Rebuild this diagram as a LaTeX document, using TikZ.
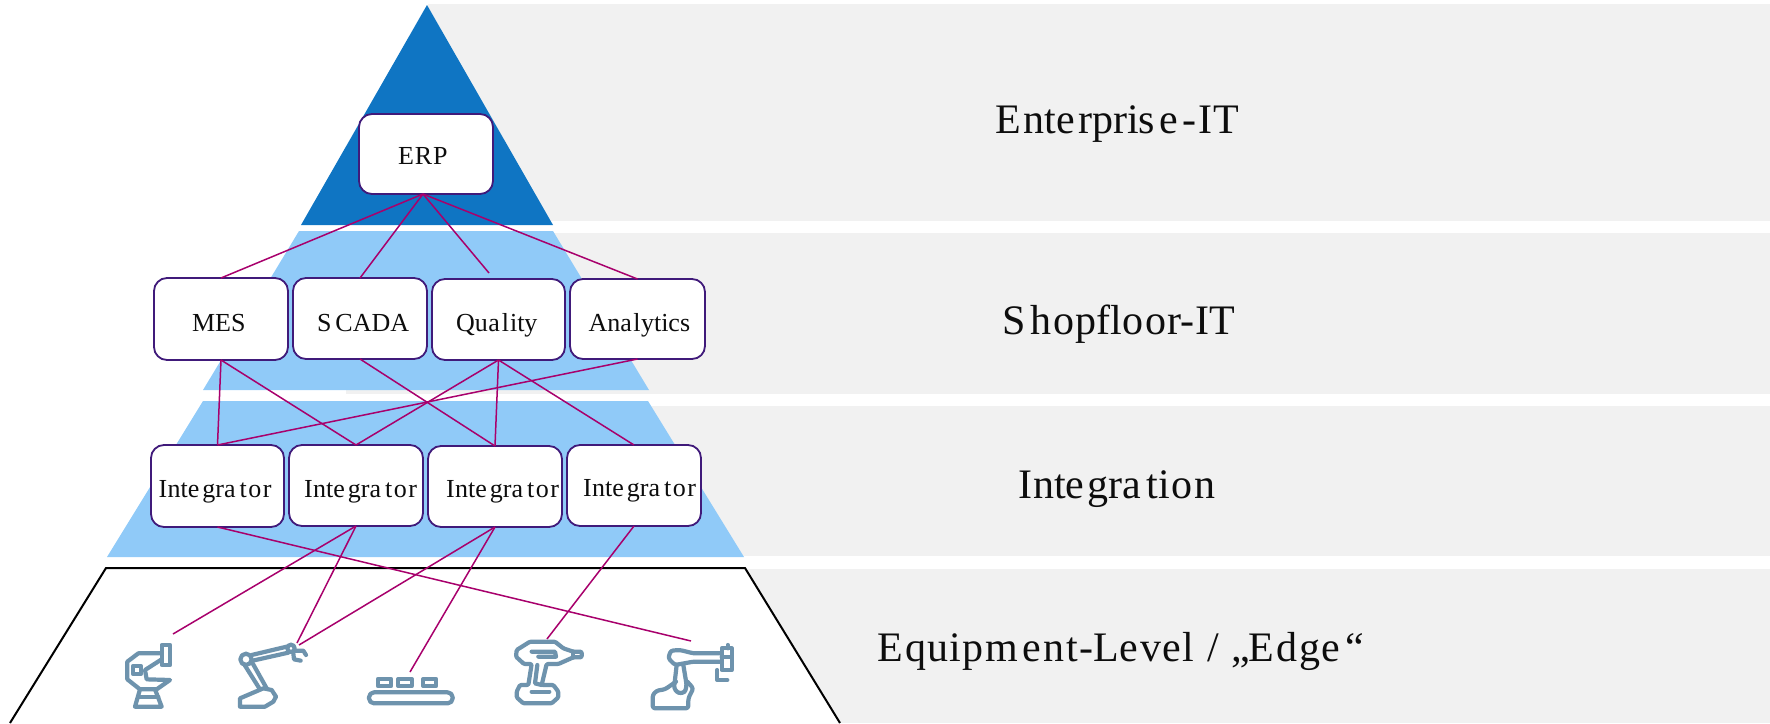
\documentclass[tikz,border=0pt]{standalone}
\usepackage{fontspec}
\setmainfont{Liberation Serif}
\definecolor{bandgrey}{HTML}{F1F1F1}
\definecolor{darkblue}{HTML}{0F75C3}
\definecolor{lightblue}{HTML}{90CAF8}
\definecolor{linkcol}{HTML}{A8006C}
\definecolor{boxcol}{HTML}{401A7A}
\definecolor{iconcol}{HTML}{6E93AD}
\definecolor{inkcol}{HTML}{0D0D0D}
\tikzset{
  band/.style={fill=bandgrey,draw=none},
  tier/.style={fill=lightblue,draw=none},
  box/.style={draw=boxcol,fill=white,line width=1.8pt,rounded corners=13pt,inner sep=0pt,outer sep=0pt,text=inkcol,font=\fontsize{26}{26}\selectfont,anchor=base west},
  link/.style={draw=linkcol,line width=1.5pt},
  tierlabel/.style={inner sep=0pt,anchor=base west,text=inkcol,font=\fontsize{42}{42}\selectfont},
  icon/.style={draw=iconcol,line width=4.2pt,line join=round,line cap=round},
  soft/.style={rounded corners=2.5pt},
  zoomed/.style={x=0.33333pt,y=-0.33333pt}
}
\newcommand\bx[8]{%
  \pgfmathsetmacro\myw{#4-#2}\pgfmathsetmacro\myh{#6-#3}\pgfmathsetmacro\myd{#5-#6}\pgfmathsetmacro\myo{#7-#2}%
  \node[box,text height=\myh pt,text depth=\myd pt] (#1) at (#2,#6) {\makebox[\myw pt][l]{\hspace*{\myo pt}#8}};}
\newcommand\intg{I\kern.5pt nte\kern3pt gra\kern4pt t\kern1.5pt o\kern1.5pt r}
\begin{document}
\begin{tikzpicture}[x=1pt,y=-1pt]
\useasboundingbox (0,0) rectangle (1770,723);
% bands
\fill[band] (428,4) rectangle (1770,221);
\fill[band] (346,233) rectangle (1770,394);
\fill[band] (280,406) rectangle (1770,556);
\fill[band] (300,569) rectangle (1770,723);
% pyramid
\fill[darkblue] (427,5) -- (553,225) -- (301,225) -- cycle;
\fill[tier] (299,231) -- (553,231) -- (649,390) -- (203,390) -- cycle;
\fill[tier] (203,401) -- (648,401) -- (744,557) -- (107,557) -- cycle;
\draw[fill=white,draw=black,line width=2pt] (10,723) -- (106,568) -- (745,568) -- (840,723);
% boxes
\bx{erp}{359}{114}{493}{194}{164}{398}{E\kern1pt R\kern1pt P}
\bx{mes}{154}{278}{288}{360}{331}{192}{MES}
\bx{scada}{293}{278}{427}{359}{331}{317}{S\kern4pt CADA}
\bx{quality}{432}{279}{565}{360}{331}{456}{Qu\kern.5pt a\kern2pt l\kern1pt ity}
\bx{analytics}{570}{279}{705}{359}{331}{588.5}{Ana\kern1.5pt l\kern.5pt ytics}
\bx{intA}{151}{445}{284}{527}{497}{158.5}{\intg}
\bx{intB}{289}{445}{423}{526}{497}{304}{\intg}
\bx{intC}{428}{446}{562}{527}{497}{446}{\intg}
\bx{intD}{567}{445}{701}{526}{496}{583}{\intg}
% tier labels
\node[tierlabel] (lblA) at (995,133) {E\kern3pt nte\kern3pt rpris\kern4pt e\kern5pt -\kern2pt I\kern1pt T};
\node[tierlabel] (lblB) at (1002,334) {S\kern5pt h\kern2pt o\kern1pt pfl\kern.5pt o\kern1.5pt o\kern1pt r-\kern1pt IT};
\node[tierlabel] (lblC) at (1018,498) {I\kern1pt nte\kern3pt gra\kern5pt t\kern1pt i\kern1pt o\kern2pt n};
\node[tierlabel] (lblD) at (877,661) {E\kern3pt q\kern1pt u\kern1pt i\kern1pt p\kern2pt m\kern4pt e\kern3pt n\kern2pt t\kern1pt -L\kern.5pt e\kern2pt v\kern1pt e\kern2pt l\kern13pt /\kern12pt „\kern-1pt E\kern2pt d\kern2pt g\kern1pt e\kern5pt “};
% free ends
\coordinate (erpOut) at (423,194);
\coordinate (qEnd) at (489,273);
\coordinate (robA) at (173,634);
\coordinate (robB) at (297,643);
\coordinate (robB2) at (299,645);
\coordinate (belt) at (410,672);
\coordinate (drill) at (547,639);
\coordinate (robC) at (691,641);
% links
\draw[link] (erpOut) -- (mes.north);
\draw[link] (erpOut) -- (scada.north);
\draw[link] (erpOut) -- (qEnd);
\draw[link] (erpOut) -- (analytics.north);
\draw[link] (mes.south) -- (intA.north);
\draw[link] (mes.south) -- (intB.north);
\draw[link] (scada.south) -- (intC.north);
\draw[link] (quality.south) -- (intB.north);
\draw[link] (quality.south) -- (intC.north);
\draw[link] (quality.south) -- (intD.north);
\draw[link] (analytics.south) -- (intA.north);
\draw[link] (intA.south) -- (robC);
\draw[link] (intB.south) -- (robA);
\draw[link] (intB.south) -- (robB);
\draw[link] (intC.south) -- (robB2);
\draw[link] (intC.south) -- (belt);
\draw[link] (intD.south) -- (drill);
% icons, first three
\begin{scope}[shift={(100,620)},zoomed]
  % welding robot
  \draw[icon] (185,100) -- (115,100) -- (82,125) -- (82,178) -- (120,208) -- (170,208) -- (210,180) -- (140,178) -- (135,150) -- (185,118);
  \draw[icon] (185,75) rectangle (210,135);
  \draw[icon] (100,137) rectangle (122,163);
  \draw[icon] (120,208) -- (105,260) -- (185,260) -- (165,208);
  \draw[icon] (115,230) -- (175,230);
  % arm robot
  \draw[icon] (420,260) -- (420,235) -- (490,205) -- (515,210) -- (528,230) -- (520,245) -- (495,260) -- cycle;
  \draw[icon] (432,132) -- (478,205);
  \draw[icon] (458,130) -- (500,205);
  \draw[icon] (438,118) circle[radius=17];
  \draw[icon] (455,105) -- (560,80);
  \draw[icon] (458,122) -- (565,98);
  \draw[icon] (573,85) circle[radius=11];
  \draw[icon] (585,92) -- (610,92) -- (618,105);
  \draw[icon] (580,100) -- (582,118) -- (602,122);
  % conveyor
  \draw[icon] (834,177) rectangle (873,198);
  \draw[icon] (895,177) rectangle (935,198);
  \draw[icon] (970,177) rectangle (1008,198);
  \draw[icon,rounded corners=5pt] (807,217) rectangle (1058,250);
\end{scope}
% icons, last two
\begin{scope}[shift={(430,620)},zoomed]
  \draw[icon,rounded corners=1.2pt] (300,65) -- (375,65) -- (400,85) -- (430,95) -- (455,95) -- (455,112) -- (430,112) -- (385,132) -- (350,132) -- (335,195) -- (370,195) -- (385,215) -- (385,232) -- (365,250) -- (280,250) -- (260,232) -- (260,215) -- (270,195) -- (295,195) -- (305,132) -- (282,132) -- (258,110) -- (260,90) -- cycle;
  \draw[icon] (430,95) -- (430,112);
  \draw[icon] (305,95) -- (375,95) -- (378,110) -- (325,110);
  \draw[icon] (322,135) -- (315,190) -- (335,195);
  \draw[icon] (305,215) -- (358,215);
  \draw[icon,soft] (870,100) -- (790,100) -- (750,90) -- (722,92) -- (715,115) -- (735,135) -- (790,125) -- (870,125);
  \draw[icon,soft] (738,185) -- (705,208) -- (680,212) -- (668,225) -- (668,265) -- (775,265) -- (775,235) -- (790,205) -- (772,185);
  \draw[icon,soft] (740,135) -- (732,205) -- (745,220) -- (765,217) -- (770,195) -- (760,135);
  \draw[icon] (875,85) rectangle (905,150);
  \draw[icon] (875,112) -- (905,112);
  \draw[icon] (893,75) -- (893,85);
  \draw[icon] (862,150) -- (862,180) -- (892,180);
\end{scope}
\end{tikzpicture}
\end{document}
